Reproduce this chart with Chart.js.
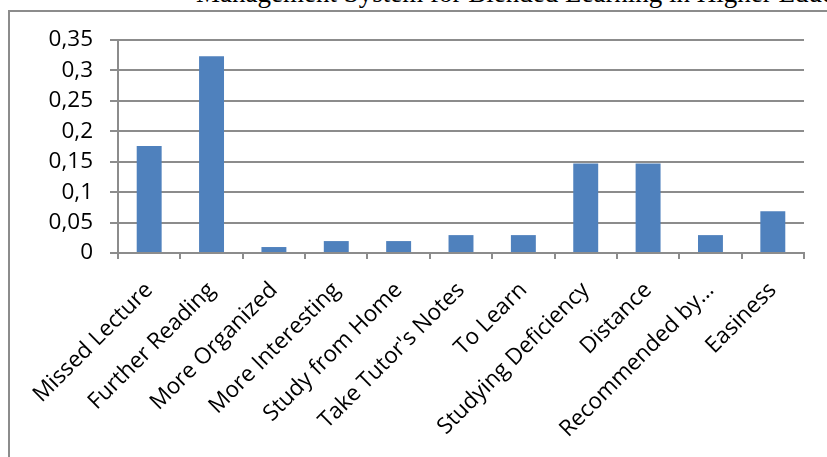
<!DOCTYPE html>
<html>
<head>
<meta charset="utf-8">
<script src="https://cdn.jsdelivr.net/npm/chart.js@4/dist/chart.umd.min.js"></script>
<style>
  body { margin: 0; background: #fff; overflow: hidden; }
  #wrap { position: relative; width: 827px; height: 457px; overflow: hidden; }
  #frame { position: absolute; left: 8px; top: 10px; width: 900px; height: 500px; border: 2px solid #8c8c8c; box-sizing: border-box; }
  #head { position: absolute; left: 196px; top: -20px; font: 27px "Liberation Serif", "Times New Roman", serif; line-height: 27px; color: #000; white-space: nowrap; }
  canvas { position: absolute; left: 0; top: 0; }
</style>
</head>
<body>
<div id="wrap">
  <div id="head">Management System for Blended Learning in Higher Education</div>
  <div id="frame"></div>
  <canvas id="c" width="827" height="457"></canvas>
</div>
<script>
var labels = ["Missed Lecture", "Further Reading", "More Organized", "More Interesting", "Study from Home",
  "Take Tutor's Notes", "To Learn", "Studying Deficiency", "Distance", "Recommended by…", "Easiness"];
var values = [0.176, 0.3235, 0.0098, 0.0196, 0.0196, 0.0294, 0.0294, 0.147, 0.147, 0.0294, 0.0686];
var yTicks = [0, 0.05, 0.1, 0.15, 0.2, 0.25, 0.3, 0.35];

var xFont = { family: "'Open Sans', Lato, sans-serif", size: 22.5 };
var yFont = { family: "'Open Sans', Lato, sans-serif", size: 22.5 };

new Chart(document.getElementById("c"), {
  type: 'bar',
  data: {
    labels: labels,
    datasets: [{
      data: values,
      backgroundColor: "#4f81bd",
      categoryPercentage: 1,
      barPercentage: 0.4
    }]
  },
  options: {
    responsive: false,
    animation: false,
    layout: { padding: { left: 0, top: 40, right: 23, bottom: 0 } },
    plugins: { legend: { display: false }, tooltip: { enabled: false } },
    scales: {
      x: {
        offset: true,
        grid: { offset: true, drawOnChartArea: false, drawTicks: true, tickLength: 6, color: "#8c8c8c", lineWidth: 2 },
        border: { color: "#8c8c8c", width: 2 },
        ticks: { color: "#000", font: xFont, minRotation: 45, maxRotation: 45, autoSkip: false, padding: 18 },
        afterFit: function (s) { s.height = 457 - 253; }
      },
      y: {
        min: 0, max: 0.35,
        afterBuildTicks: function (s) { s.ticks = yTicks.map(function (v) { return { value: v }; }); },
        grid: { color: "#8c8c8c", lineWidth: 2, tickLength: 8 },
        border: { color: "#8c8c8c", width: 2 },
        ticks: {
          color: "#000", font: yFont, padding: 17,
          callback: function (v) { return String(+v.toFixed(2)).replace('.', ','); }
        },
        afterFit: function (s) { s.width = 118; }
      }
    }
  }
});
</script>
</body>
</html>
